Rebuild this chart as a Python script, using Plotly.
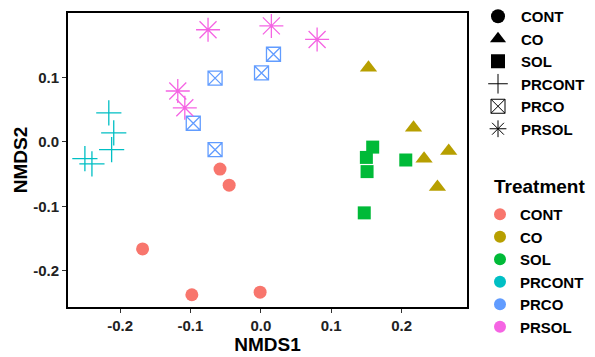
import plotly.graph_objects as go

treatments = ["CONT", "CO", "SOL", "PRCONT", "PRCO", "PRSOL"]
colors = ["#F8766D", "#B79F00", "#00BA38", "#00BFC4", "#619CFF", "#F564E3"]
symbols = ["circle", "triangle-up", "square", "cross-thin-open", "square-x-open", "asterisk-open"]
sizes = [13, 15, 13, 18, 14, 20]

nmds1 = {
    "CONT":   [-0.058, -0.045, -0.168, -0.098, -0.001],
    "CO":     [0.153, 0.217, 0.232, 0.267, 0.251],
    "SOL":    [0.159, 0.150, 0.151, 0.206, 0.147],
    "PRCONT": [-0.216, -0.209, -0.212, -0.250, -0.240],
    "PRCO":   [-0.065, -0.096, -0.065, 0.001, 0.018],
    "PRSOL":  [-0.075, 0.015, -0.118, -0.108, 0.080],
}
nmds2 = {
    "CONT":   [-0.042, -0.067, -0.166, -0.237, -0.233],
    "CO":     [0.115, 0.022, -0.026, -0.014, -0.070],
    "SOL":    [-0.008, -0.024, -0.046, -0.028, -0.110],
    "PRCONT": [0.045, 0.014, -0.012, -0.026, -0.034],
    "PRCO":   [0.099, 0.029, -0.012, 0.107, 0.136],
    "PRSOL":  [0.174, 0.180, 0.079, 0.053, 0.159],
}

xticks = [-0.2, -0.1, 0.0, 0.1, 0.2]
yticks = [-0.2, -0.1, 0.0, 0.1]
legend_title = "Treatment"

FONT = "Arial, Liberation Sans, sans-serif"
fig = go.Figure()

for t, c, s, sz in zip(treatments, colors, symbols, sizes):
    open_sym = s.endswith("-open")
    fig.add_trace(go.Scatter(
        x=nmds1[t], y=nmds2[t], mode="markers", showlegend=False,
        marker=dict(symbol=s, size=sz, color=c,
                    line=dict(width=1.3 if open_sym else 0, color=c)),
    ))

# shape legend
for t, s in zip(treatments, symbols):
    open_sym = s.endswith("-open")
    fig.add_trace(go.Scatter(
        x=[None], y=[None], mode="markers", name=t, legend="legend",
        marker=dict(symbol=s, size=14, color="black",
                    line=dict(width=1 if open_sym else 0, color="black")),
    ))
# colour legend
for t, c in zip(treatments, colors):
    fig.add_trace(go.Scatter(
        x=[None], y=[None], mode="markers", name=t, legend="legend2",
        marker=dict(symbol="circle", size=12, color=c),
    ))

axis_common = dict(
    showgrid=False, zeroline=False, showline=True, linecolor="black", linewidth=2,
    mirror=True, ticks="outside", ticklen=4, tickcolor="#333", tickwidth=1,
    tickfont=dict(family=FONT, size=15, color="#222", weight="bold"),
)

fig.update_layout(
    width=595, height=357,
    margin=dict(l=68, r=128, t=13, b=50, autoexpand=False),
    plot_bgcolor="white", paper_bgcolor="white",
    font=dict(family=FONT, color="black"),
    xaxis=dict(range=[-0.274, 0.293], tickvals=xticks, ticktext=[f"{v:.1f}" for v in xticks],
               title=dict(text="NMDS1", font=dict(family=FONT, size=19, weight="bold"), standoff=2),
               **axis_common),
    yaxis=dict(range=[-0.256, 0.2], tickvals=yticks, ticktext=[f"{v:.1f}" for v in yticks],
               title=dict(text="NMDS2", font=dict(family=FONT, size=19, weight="bold"), standoff=0),
               **axis_common),
    legend=dict(xref="container", yref="container", x=475/595, y=1.0,
                xanchor="left", yanchor="top",
                font=dict(family=FONT, size=15, weight="bold"),
                itemwidth=36, bgcolor="rgba(0,0,0,0)"),
    legend2=dict(xref="container", yref="container", x=480/595, y=1 - 198/357,
                 xanchor="left", yanchor="top",
                 font=dict(family=FONT, size=15, weight="bold"),
                 itemwidth=30, bgcolor="rgba(0,0,0,0)"),
    annotations=[dict(text=legend_title, xref="paper", yref="paper",
                      x=(492 - 68) / 399, y=(307 - 186) / 294,
                      xanchor="left", yanchor="middle", showarrow=False,
                      font=dict(family=FONT, size=19, weight="bold", color="black"))],
)

fig.write_html("out.html", config={"displayModeBar": False},
               post_script="document.body.style.margin='0';")
